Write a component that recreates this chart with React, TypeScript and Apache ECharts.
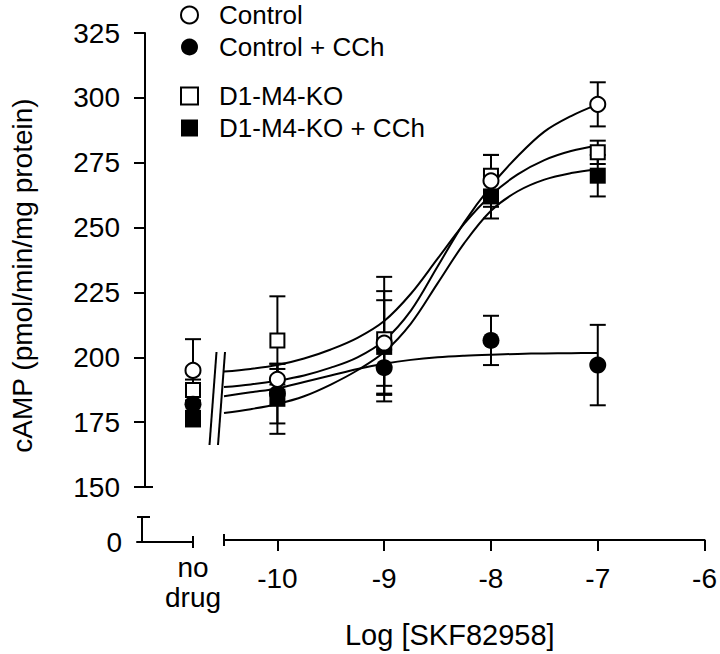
import React, { useEffect, useRef } from "react";
import * as echarts from "echarts";

// ---------- data ----------
const seriesNames = ["Control", "Control + CCh", "D1-M4-KO", "D1-M4-KO + CCh"];
const noDrugCategories = ["", "no\ndrug"];
const logConc = [-10, -9, -8, -7];
const xTickValues = [-10, -9, -8, -7, -6];

const controlMean = [191.5, 205.5, 268, 297.5];
const controlSE = [4, 20, 10, 8.5];
const cchMean = [186, 196, 206.5, 197];
const cchSE = [11.5, 7, 9.5, 15.5];
const koMean = [206.5, 207, 270, 279];
const koSE = [17, 24, 8, 4.5];
const koCchMean = [184, 204, 262, 270];
const koCchSE = [13.5, 18, 8.5, 8];

// no-drug (basal) values, same order as seriesNames
const basalMean = [195.5, 182.5, 188, 177];
const basalSE = [12, 3, 4, 3];

// fitted curves
const fitX = [-10.5, -10.25, -10, -9.75, -9.5, -9.25, -9, -8.75, -8.5, -8.25, -8, -7.75, -7.5, -7.25, -7];
const fitControl = [188.5, 189.5, 191, 193, 196, 200, 206.5, 218, 235, 252, 266, 277.5, 287, 293, 297.5];
const fitCch = [185, 186.5, 188, 190.5, 193, 195.5, 197.5, 199, 200, 200.6, 201, 201.3, 201.5, 201.6, 201.7];
const fitKo = [194.5, 195.5, 197, 199.5, 203, 207.5, 214, 224.5, 238, 251.5, 262.5, 270.5, 276, 279.5, 281.5];
const fitKoCch = [178.5, 180, 182, 185, 189.5, 195, 202, 213, 228.5, 244, 256.5, 264, 268.5, 271, 272.5];

const FONT = "Liberation Sans, Arial, Helvetica, sans-serif";

export default function App() {
  const ref = useRef<HTMLDivElement>(null);

  useEffect(() => {
    if (!ref.current) return;
    const chart = echarts.init(ref.current, undefined, { renderer: "svg" });

    const means = [controlMean, cchMean, koMean, koCchMean];
    const ses = [controlSE, cchSE, koSE, koCchSE];
    const fits = [fitControl, fitCch, fitKo, fitKoCch];
    const symbols = ["circle", "circle", "rect", "rect"];
    const open = [true, false, true, false];
    // drawing order: squares below circles
    const markerZ = [8, 7, 6, 5];

    const errRender = (params: any, api: any) => {
      const x = api.value(0);
      const lo = api.coord([x, api.value(1)]);
      const hi = api.coord([x, api.value(2)]);
      const w = 8;
      const st = { stroke: "#000", lineWidth: 2 };
      return {
        type: "group",
        children: [
          { type: "line", shape: { x1: hi[0], y1: hi[1], x2: lo[0], y2: lo[1] }, style: st },
          { type: "line", shape: { x1: hi[0] - w, y1: hi[1], x2: hi[0] + w, y2: hi[1] }, style: st },
          { type: "line", shape: { x1: lo[0] - w, y1: lo[1], x2: lo[0] + w, y2: lo[1] }, style: st },
        ],
      };
    };

    const series: any[] = [];
    for (let i = 0; i < 4; i++) {
      const itemStyle = open[i]
        ? { color: "#fff", borderColor: "#000", borderWidth: 2, opacity: 1 }
        : { color: "#000", borderColor: "#000", borderWidth: 0, opacity: 1 };
      const size = open[i] ? (symbols[i] === "circle" ? 15 : 14) : symbols[i] === "circle" ? 17 : 16;
      series.push({
        type: "line",
        xAxisIndex: 0,
        yAxisIndex: 0,
        data: fitX.map((x, j) => [x, fits[i][j]]),
        smooth: 0.35,
        showSymbol: false,
        symbol: "none",
        lineStyle: { color: "#000", width: 2 },
        silent: true,
        z: 2,
      });
      series.push({
        type: "custom",
        xAxisIndex: 0,
        yAxisIndex: 0,
        renderItem: errRender,
        data: logConc.map((x, j) => [x, means[i][j] - ses[i][j], means[i][j] + ses[i][j]]),
        encode: { x: 0, y: [1, 2] },
        silent: true,
        z: 3,
      });
      series.push({
        type: "custom",
        xAxisIndex: 1,
        yAxisIndex: 1,
        renderItem: errRender,
        data: [[1, basalMean[i] - basalSE[i], basalMean[i] + basalSE[i]]],
        encode: { x: 0, y: [1, 2] },
        silent: true,
        clip: false,
        z: 3,
      });
      series.push({
        name: seriesNames[i],
        type: "scatter",
        xAxisIndex: 0,
        yAxisIndex: 0,
        symbol: symbols[i],
        symbolSize: size,
        itemStyle,
        data: logConc.map((x, j) => [x, means[i][j]]),
        clip: false,
        z: markerZ[i],
      });
      series.push({
        name: seriesNames[i],
        type: "scatter",
        xAxisIndex: 1,
        yAxisIndex: 1,
        symbol: symbols[i],
        symbolSize: size,
        itemStyle,
        data: [[1, basalMean[i]]],
        clip: false,
        z: markerZ[i],
      });
    }

    const axisLine = { show: true, lineStyle: { color: "#000", width: 2 } };
    const tickStyle = { color: "#000", width: 2 };
    const labelStyle = { color: "#000", fontSize: 28, fontFamily: FONT };
    const legendText = { fontSize: 26, lineHeight: 26, color: "#000", fontFamily: FONT, padding: [0, 0, 0, 16] };

    const option: any = {
      animation: false,
      backgroundColor: "#fff",
      textStyle: { fontFamily: FONT },
      grid: [
        { left: 221, right: 12, top: 33, bottom: 165 },
        { left: 137, width: 56, top: 33, bottom: 165 },
        { left: 142, right: 12, top: 517, bottom: 112 },
      ],
      legend: [
        {
          data: [seriesNames[0], seriesNames[1]],
          orient: "vertical",
          left: 180,
          top: 2,
          padding: 0,
          itemWidth: 17,
          itemHeight: 17,
          itemGap: 6,
          selectedMode: false,
          textStyle: legendText,
        },
        {
          data: [seriesNames[2], seriesNames[3]],
          orient: "vertical",
          left: 180,
          top: 83,
          padding: 0,
          itemWidth: 17,
          itemHeight: 17,
          itemGap: 6,
          selectedMode: false,
          textStyle: legendText,
        },
      ],
      xAxis: [
        {
          gridIndex: 0,
          type: "value",
          min: -10.5,
          max: -6,
          position: "bottom",
          offset: 53,
          axisLine,
          axisTick: { show: true, length: 11, lineStyle: tickStyle, customValues: xTickValues },
          axisLabel: { ...labelStyle, margin: 23, lineHeight: 30, customValues: xTickValues },
          splitLine: { show: false },
          name: "Log [SKF82958]",
          nameLocation: "middle",
          nameGap: 80,
          nameTextStyle: { color: "#000", fontSize: 29, fontFamily: FONT, padding: [0, 29, 0, 0] },
        },
        {
          gridIndex: 1,
          type: "category",
          data: noDrugCategories,
          boundaryGap: false,
          position: "bottom",
          offset: 53,
          axisLine,
          axisTick: { show: true, length: 6, lineStyle: tickStyle, interval: (i: number) => i === 1 },
          axisLabel: { ...labelStyle, margin: 10, lineHeight: 30, interval: (i: number) => i === 1 },
          splitLine: { show: false },
        },
        {
          gridIndex: 2,
          type: "value",
          min: 0,
          max: 1,
          show: false,
        },
        {
          gridIndex: 0,
          type: "value",
          min: -10.5,
          max: -6,
          position: "bottom",
          offset: 53,
          axisLine: { show: false },
          axisTick: { show: true, inside: true, length: 6, lineStyle: tickStyle, customValues: [-10.5] },
          axisLabel: { show: false },
          splitLine: { show: false },
        },
        {
          gridIndex: 0,
          type: "value",
          min: -10.5,
          max: -6,
          position: "bottom",
          offset: 53,
          axisLine: { show: false },
          axisTick: { show: true, length: 6, lineStyle: tickStyle, customValues: [-10.5] },
          axisLabel: { show: false },
          splitLine: { show: false },
        },
        {
          gridIndex: 1,
          type: "category",
          data: noDrugCategories,
          boundaryGap: false,
          position: "bottom",
          offset: 53,
          axisLine: { show: false },
          axisTick: { show: true, inside: true, length: 6, lineStyle: tickStyle, interval: (i: number) => i === 1 },
          axisLabel: { show: false },
          splitLine: { show: false },
        },
      ],
      yAxis: [
        {
          gridIndex: 0,
          type: "value",
          min: 150,
          max: 325,
          interval: 25,
          position: "left",
          offset: 79,
          axisLine,
          axisTick: { show: true, length: 11, lineStyle: tickStyle },
          axisLabel: { ...labelStyle, margin: 25 },
          splitLine: { show: false },
          name: "cAMP (pmol/min/mg protein)",
          nameLocation: "middle",
          nameGap: 109,
          nameTextStyle: { color: "#000", fontSize: 28, fontFamily: FONT, padding: [0, 31, 0, 0] },
        },
        {
          gridIndex: 1,
          type: "value",
          min: 150,
          max: 325,
          interval: 25,
          show: false,
        },
        {
          gridIndex: 2,
          type: "value",
          min: 0,
          max: 10,
          position: "left",
          axisLine,
          axisTick: { show: true, length: 5, lineStyle: tickStyle, customValues: [10] },
          axisLabel: { ...labelStyle, margin: 20, customValues: [0] },
          splitLine: { show: false },
        },
        {
          gridIndex: 0,
          type: "value",
          min: 150,
          max: 325,
          interval: 25,
          position: "left",
          offset: 79,
          axisLine: { show: false },
          axisTick: { show: true, inside: true, length: 8, lineStyle: tickStyle, customValues: [150] },
          axisLabel: { show: false },
          splitLine: { show: false },
        },
        {
          gridIndex: 2,
          type: "value",
          min: 0,
          max: 10,
          position: "left",
          axisLine: { show: false },
          axisTick: { show: true, inside: true, length: 8, lineStyle: tickStyle, customValues: [10] },
          axisLabel: { show: false },
          splitLine: { show: false },
        },
      ],
      graphic: [
        { type: "line", shape: { x1: 216.5, y1: 352, x2: 209.5, y2: 445 }, style: { stroke: "#000", lineWidth: 2 } },
        { type: "line", shape: { x1: 225, y1: 352, x2: 218, y2: 445 }, style: { stroke: "#000", lineWidth: 2 } },
      ],
      series,
    };

    chart.setOption(option);
    return () => chart.dispose();
  }, []);

  return (
    <div
      ref={ref}
      style={{ position: "fixed", left: 0, top: 0, width: 720, height: 654, background: "#fff" }}
    />
  );
}
